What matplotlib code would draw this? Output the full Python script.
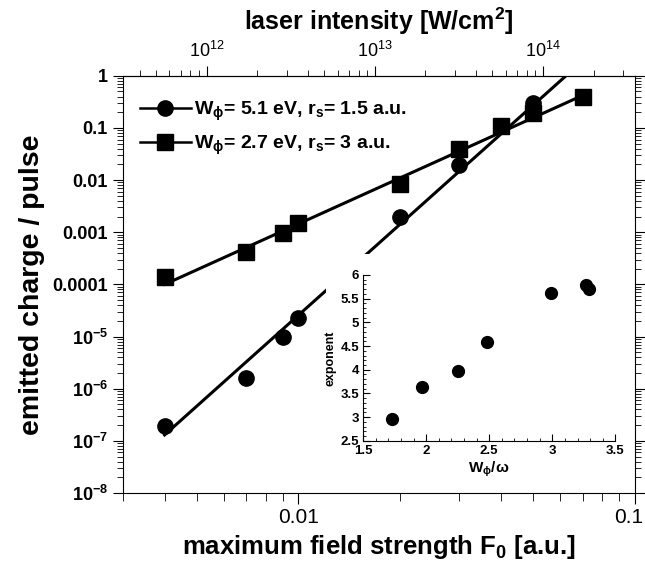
import numpy as np
import matplotlib
matplotlib.use('Agg')
import matplotlib.pyplot as plt
from matplotlib.lines import Line2D
from matplotlib.patches import Rectangle
from matplotlib.transforms import ScaledTranslation
from matplotlib.ticker import NullFormatter

plt.rcParams['font.family'] = ['Liberation Sans', 'DejaVu Sans']
plt.rcParams['mathtext.fontset'] = 'custom'
plt.rcParams['mathtext.rm'] = 'Liberation Sans:bold'
plt.rcParams['mathtext.bf'] = 'Liberation Sans:bold'
plt.rcParams['mathtext.it'] = 'Liberation Sans:bold'

# emitted charge, W_phi = 5.1 eV (circles)
F_circ = [0.004, 0.007, 0.009, 0.010, 0.020, 0.030, 0.050]
q_circ = [1.95e-7, 1.6e-6, 1.0e-5, 2.3e-5, 2.0e-3, 1.95e-2, 0.30]
# emitted charge, W_phi = 2.7 eV (squares)
F_sq = [0.004, 0.007, 0.009, 0.010, 0.020, 0.030, 0.040, 0.050, 0.070]
q_sq = [1.4e-4, 4.1e-4, 9.5e-4, 1.5e-3, 8.5e-3, 3.9e-2, 0.11, 0.195, 0.40]

# power law fits (end points)
fit_circ_F = [0.004, 0.0625]
fit_circ_q = [1.3e-7, 1.0]
fit_sq_F = [0.004, 0.070]
fit_sq_q = [1.0e-4, 0.42]

# inset: exponent vs W_phi/omega
w_ratio = [1.73, 1.97, 2.25, 2.48, 2.99, 3.27, 3.29]
exponent = [2.97, 3.64, 3.97, 4.58, 5.62, 5.79, 5.71]

ytick_vals = [1, 0.1, 0.01, 0.001, 0.0001, 1e-5, 1e-6, 1e-7, 1e-8]
ytick_labels = ['1', '0.1', '0.01', '0.001', '0.0001',
                r'10$^\mathbf{-5}$', r'10$^\mathbf{-6}$', r'10$^\mathbf{-7}$', r'10$^\mathbf{-8}$']
top_ticks = [1e12, 1e13, 1e14]
top_labels = [r'10$^\mathregular{12}$', r'10$^\mathregular{13}$', r'10$^\mathregular{14}$']

I_per_F2 = 3.51e16  # W/cm^2 per (a.u.)^2

fig = plt.figure(figsize=(6.45, 5.74), dpi=100)
ax = fig.add_axes([0.190, 0.141, 0.794, 0.727])
ax.set_xscale('log')
ax.set_yscale('log')
ax.set_xlim(0.003, 0.1)
ax.set_ylim(1e-8, 1)

ax.plot(fit_circ_F, fit_circ_q, color='black', lw=2.2, zorder=2)
ax.plot(fit_sq_F, fit_sq_q, color='black', lw=2.2, zorder=2)
ax.plot(F_circ, q_circ, 'o', color='black', ms=11, zorder=4)
ax.plot(F_sq, q_sq, 's', color='black', ms=11, zorder=4)

ax.set_yticks(ytick_vals, ytick_labels)
ax.set_xticks([0.01, 0.1], ['0.01', '0.1'])
ax.tick_params(axis='y', which='major', labelsize=13, length=7, right=True)
ax.tick_params(axis='y', which='minor', length=4, right=True)
ax.tick_params(axis='x', which='major', labelsize=15, length=8, pad=3)
ax.tick_params(axis='x', which='minor', length=6)
ax.tick_params(axis='y', which='both', labelright=False)
for lab in ax.get_yticklabels():
    lab.set_fontweight('bold')
# nudge the "0.1" label so it stays inside the picture
last = ax.get_xticklabels()[-1]
last.set_transform(last.get_transform() + ScaledTranslation(-6 / 100, 0, fig.dpi_scale_trans))

ax.set_xlabel(r'maximum field strength F$_\mathbf{0}$ [a.u.]', fontsize=18.5, fontweight='bold', labelpad=4)
ax.set_ylabel('emitted charge / pulse', fontsize=20.5, fontweight='bold', labelpad=5)

sec = ax.secondary_xaxis('top', functions=(lambda F: I_per_F2 * np.asarray(F) ** 2,
                                           lambda I: np.sqrt(np.asarray(I) / I_per_F2)))
sec.set_xticks(top_ticks, top_labels)
sec.xaxis.set_minor_formatter(NullFormatter())
sec.tick_params(which='major', labelsize=13, length=7)
sec.tick_params(which='minor', length=4)
sec.set_xlabel(r'laser intensity [W/cm$^\mathbf{2}$]', fontsize=18, fontweight='bold', labelpad=8)

handles = [Line2D([], [], color='black', lw=1.8, marker='o', ms=11),
           Line2D([], [], color='black', lw=1.8, marker='s', ms=11)]
labels = [r'W$_\mathbf{\phi}$= 5.1 eV, r$_\mathbf{s}$= 1.5 a.u.',
          r'W$_\mathbf{\phi}$= 2.7 eV, r$_\mathbf{s}$= 3 a.u.']
leg = ax.legend(handles, labels, loc='upper left', frameon=False, handlelength=2.6,
                handletextpad=0.2, labelspacing=0.55, borderaxespad=0.5,
                bbox_to_anchor=(0.0, 0.985),
                prop={'size': 14, 'weight': 'bold'})

# white area behind the inset
fig.add_artist(Rectangle((0.505, 0.16), 0.455, 0.398, transform=fig.transFigure,
                         facecolor='white', edgecolor='none', zorder=0.5))

ins = fig.add_axes([0.563, 0.232, 0.391, 0.289])
ins.set_zorder(1)
ins.plot(w_ratio, exponent, 'o', color='black', ms=8.5)
ins.set_xlim(1.5, 3.5)
ins.set_ylim(2.5, 6)
ins.spines['top'].set_visible(False)
ins.spines['right'].set_visible(False)
ins.set_xticks([1.5, 2, 2.5, 3, 3.5], ['1.5', '2', '2.5', '3', '3.5'])
ins.set_yticks([2.5, 3, 3.5, 4, 4.5, 5, 5.5, 6], ['2.5', '3', '3.5', '4', '4.5', '5', '5.5', '6'])
ins.set_xticks(np.arange(1.5, 3.51, 0.1), minor=True)
ins.set_yticks(np.arange(2.5, 6.01, 0.1), minor=True)
ins.tick_params(which='both', direction='in', labelsize=9.5, pad=3)
ins.tick_params(which='major', length=5)
ins.tick_params(which='minor', length=2.5)
for lab in ins.get_xticklabels() + ins.get_yticklabels():
    lab.set_fontweight('bold')
ins.set_xlabel(r'W$_\mathbf{\phi}$/$\mathbf{\omega}$', fontsize=11, fontweight='bold', labelpad=2)
ins.set_ylabel('exponent', fontsize=9, fontweight='bold', labelpad=3)

plt.savefig('out.png', dpi=100)
